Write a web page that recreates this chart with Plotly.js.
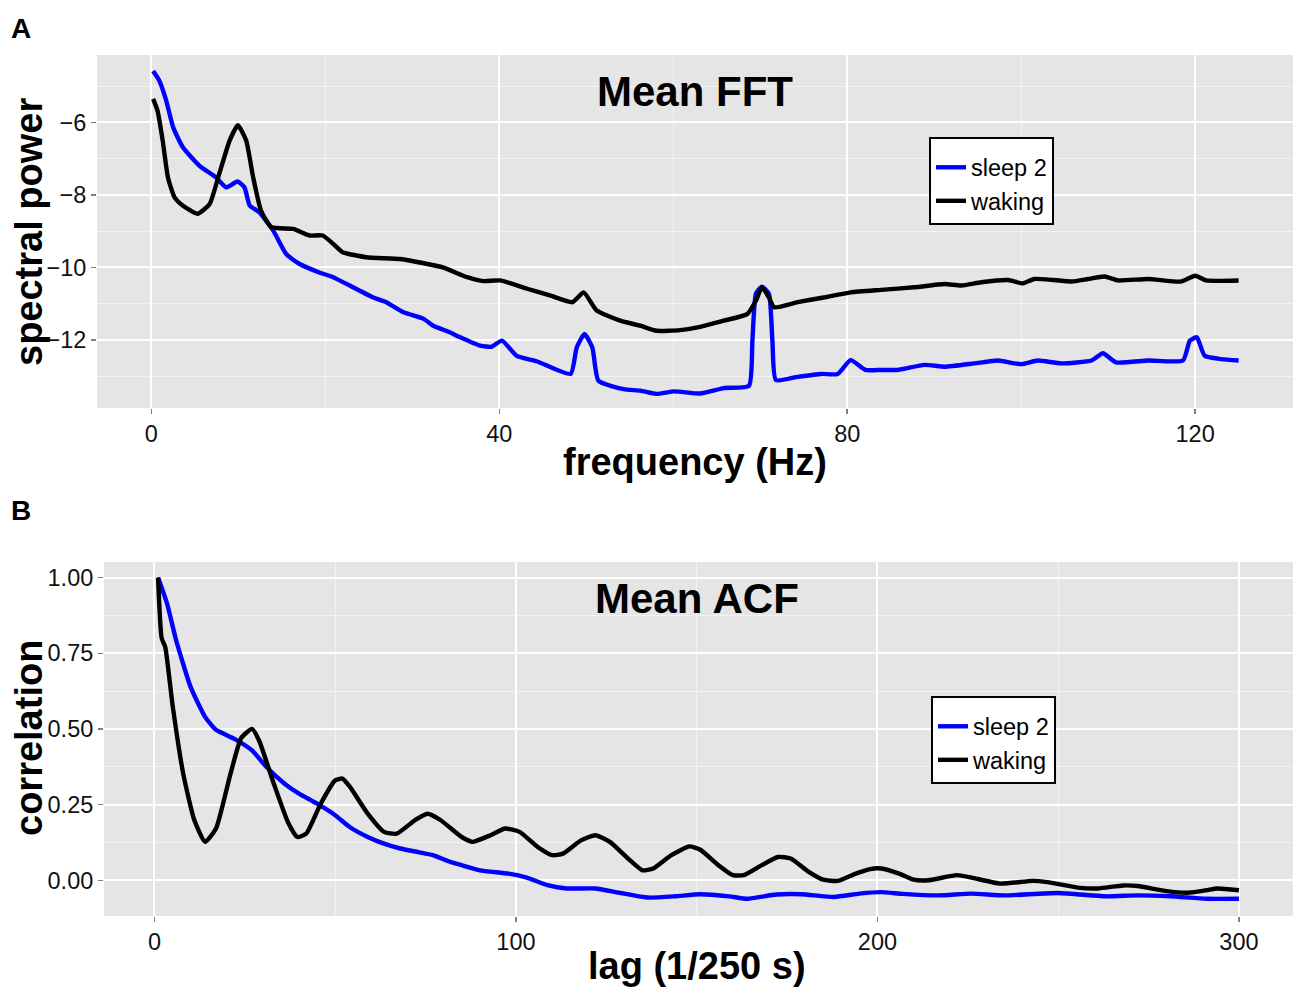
<!DOCTYPE html>
<html>
<head>
<meta charset="utf-8">
<script src="https://cdn.plot.ly/plotly-3.0.1.min.js"></script>
<style>html,body{margin:0;padding:0;background:#fff;} #chart{width:1300px;height:997px;}</style>
</head>
<body>
<div id="chart"></div>
<script>
// ---- Panel A: Mean FFT ----
const fftFreqSleep = [0.2,0.9,1.7,2.5,3.6,5.5,7.4,8.6,9.9,10.7,11.3,12.4,14.0,15.5,17.0,19.3,20.9,22.8,25.5,27.0,29.0,31.3,32.4,34.3,35.5,37.8,39.1,40.3,42.0,44.3,48.2,48.9,49.8,50.7,51.4,54.3,56.2,58.1,60.1,63.1,65.8,68.7,69.1,69.5,70.2,71.0,71.4,71.8,74.3,77.0,78.9,80.4,82.1,83.9,85.8,88.9,91.2,94.6,97.3,100.0,101.9,104.6,108.1,109.4,110.9,114.6,118.6,119.4,120.2,121.1,123.0,125.0];
const fftSleep = [-4.58,-4.84,-5.39,-6.13,-6.68,-7.19,-7.51,-7.79,-7.63,-7.79,-8.29,-8.48,-8.98,-9.63,-9.90,-10.14,-10.27,-10.50,-10.83,-10.96,-11.24,-11.42,-11.61,-11.79,-11.93,-12.16,-12.19,-12.02,-12.44,-12.59,-12.94,-12.21,-11.84,-12.21,-13.13,-13.36,-13.40,-13.49,-13.42,-13.48,-13.33,-13.27,-12.02,-10.73,-10.53,-10.73,-12.02,-13.11,-13.02,-12.94,-12.94,-12.56,-12.83,-12.83,-12.83,-12.69,-12.74,-12.65,-12.57,-12.67,-12.57,-12.65,-12.57,-12.37,-12.62,-12.57,-12.57,-12.02,-11.93,-12.44,-12.53,-12.57];
const fftFreqWake = [0.2,0.7,1.3,1.9,2.65,3.6,5.3,6.7,7.8,9.0,9.95,10.9,11.7,12.6,13.8,16.3,18.2,19.7,20.9,22.0,24.7,28.6,31.6,33.5,36.3,38.2,40.1,43.2,45.9,48.4,49.7,51.2,53.9,56.2,58.1,60.8,63.1,65.8,68.5,69.5,70.2,71.0,71.6,74.3,77.3,80.4,83.9,87.7,91.2,93.1,95.4,98.5,100.2,101.5,103.8,105.8,107.7,109.6,111.1,114.6,118.4,120.0,121.3,125.0];
const fftWake = [-5.35,-5.67,-6.50,-7.51,-8.06,-8.29,-8.52,-8.25,-7.42,-6.50,-6.08,-6.50,-7.51,-8.43,-8.89,-8.94,-9.12,-9.12,-9.35,-9.58,-9.72,-9.77,-9.90,-10.00,-10.27,-10.38,-10.36,-10.59,-10.78,-10.96,-10.69,-11.19,-11.47,-11.61,-11.75,-11.73,-11.64,-11.47,-11.29,-10.92,-10.55,-10.83,-11.10,-10.96,-10.83,-10.69,-10.62,-10.55,-10.46,-10.50,-10.41,-10.35,-10.44,-10.32,-10.35,-10.39,-10.32,-10.25,-10.36,-10.32,-10.39,-10.23,-10.36,-10.36];

// ---- Panel B: Mean ACF ----
const acfLagSleep = [1,3.5,6,10,14,17,22,27,31,36,40,45,50,54,59,63.5,68,73,77,82,85,90,98,103,109,114,122,129,136.5,144,151,159,164,172,179,188,195,201,207,217,226,235,250,263,272,281,291,300];
const acfSleep = [1.0,0.914,0.793,0.639,0.540,0.497,0.468,0.429,0.374,0.319,0.286,0.253,0.215,0.176,0.143,0.121,0.105,0.093,0.083,0.060,0.050,0.033,0.022,0.009,-0.017,-0.027,-0.027,-0.042,-0.057,-0.053,-0.046,-0.053,-0.061,-0.047,-0.046,-0.055,-0.044,-0.039,-0.045,-0.050,-0.044,-0.050,-0.042,-0.053,-0.050,-0.053,-0.061,-0.061];
const acfLagWake = [1,2,3,5,8,11,14,17,21,24,27,29,33,37,39.5,42,46,50,52,54,59,63.5,67,72,75.5,79,85,88,93,97,101,106,110,113,118,122,126,131,135,138,143,148,151,156,160,163,168,172.5,176,181,185,189,194,198,201,206,210,214,222,226,234,243,247,256,261,268,272,280,286,291,294,300];
const acfWake = [1.0,0.80,0.77,0.58,0.35,0.20,0.127,0.17,0.35,0.47,0.50,0.46,0.32,0.19,0.143,0.154,0.253,0.33,0.336,0.31,0.22,0.16,0.154,0.198,0.22,0.20,0.143,0.127,0.149,0.171,0.160,0.110,0.083,0.088,0.132,0.149,0.127,0.072,0.033,0.039,0.083,0.112,0.101,0.050,0.017,0.017,0.050,0.077,0.072,0.028,0.002,-0.002,0.022,0.037,0.039,0.022,0.002,0.0,0.017,0.009,-0.011,-0.002,-0.006,-0.025,-0.027,-0.017,-0.019,-0.036,-0.041,-0.033,-0.027,-0.033];

const seriesNames = ['sleep 2','waking'];
const seriesColors = ['#0000FF','#000000'];

const FONT = 'Liberation Sans, Arial, Helvetica, sans-serif';
const W = 1300, H = 997;
const px = v => v / W;
const py = v => 1 - v / H;

const traces = [
  {x: fftFreqSleep, y: fftSleep, name: seriesNames[0], xaxis:'x', yaxis:'y', legend:'legend'},
  {x: fftFreqWake, y: fftWake, name: seriesNames[1], xaxis:'x', yaxis:'y', legend:'legend'},
  {x: acfLagSleep, y: acfSleep, name: seriesNames[0], xaxis:'x2', yaxis:'y2', legend:'legend2'},
  {x: acfLagWake, y: acfWake, name: seriesNames[1], xaxis:'x2', yaxis:'y2', legend:'legend2'}
].map((t, i) => Object.assign(t, {
  type: 'scatter', mode: 'lines',
  line: {color: seriesColors[i % 2], width: 4.4, shape: 'spline', smoothing: 0.5},
  hoverinfo: 'skip'
}));

function axisBase(extra) {
  return Object.assign({
    showgrid: true, gridcolor: '#FFFFFF', gridwidth: 2,
    zeroline: false, showline: false,
    ticks: 'outside', ticklen: 5, tickwidth: 1.5, tickcolor: '#7F7F7F',
    tickfont: {family: FONT, size: 23.5, color: '#111111'},
    fixedrange: true
  }, extra);
}
const minorGrid = d => ({dtick: d, showgrid: true, gridcolor: '#F3F3F3', gridwidth: 1, ticks: ''});

const legendBase = (x, y) => ({
  x: x, y: y, xanchor: 'left', yanchor: 'top',
  bgcolor: '#FFFFFF', bordercolor: '#000000', borderwidth: 2,
  font: {family: FONT, size: 23.5, color: '#000000'},
  title: {text: ' ', font: {family: FONT, size: 5}},
  tracegroupgap: 0, itemwidth: 30
});

const ann = (text, x, y, size, opts) => Object.assign({
  text: text, x: px(x), y: py(y), xref: 'paper', yref: 'paper',
  xanchor: 'center', yanchor: 'middle', showarrow: false,
  font: {family: FONT, size: size, color: '#000000'}
}, opts || {});

const layout = {
  width: W, height: H,
  margin: {l: 0, r: 0, t: 0, b: 0},
  paper_bgcolor: '#FFFFFF', plot_bgcolor: '#E5E5E5',
  showlegend: true,
  xaxis: axisBase({domain: [px(97), px(1293)], range: [-6.25, 131.25], tick0: 0, dtick: 40, minor: minorGrid(20), anchor: 'y'}),
  yaxis: axisBase({domain: [py(408), py(55)], range: [-13.88, -4.14], tick0: 0, dtick: 2, minor: minorGrid(1), anchor: 'x'}),
  xaxis2: axisBase({domain: [px(104), px(1293)], range: [-13.95, 314.95], tick0: 0, dtick: 100, minor: minorGrid(50), anchor: 'y2'}),
  yaxis2: axisBase({domain: [py(916), py(562)], range: [-0.118, 1.0515], tick0: 0, dtick: 0.25, tickformat: '.2f', minor: minorGrid(0.125), anchor: 'x2'}),
  legend: legendBase(px(929), py(137)),
  legend2: legendBase(px(931), py(696)),
  annotations: [
    ann('<b>A</b>', 21, 28, 28),
    ann('<b>B</b>', 21, 510, 28),
    ann('<b>Mean FFT</b>', 695, 92, 42),
    ann('<b>Mean ACF</b>', 697, 598, 42),
    ann('<b>frequency (Hz)</b>', 695, 462, 38),
    ann('<b>lag (1/250 s)</b>', 697, 966, 38),
    ann('<b>spectral power</b>', 29, 232, 38, {textangle: -90}),
    ann('<b>correlation</b>', 29, 738, 38, {textangle: -90})
  ]
};

Plotly.newPlot('chart', traces, layout, {displayModeBar: false, staticPlot: true});
</script>
</body>
</html>
